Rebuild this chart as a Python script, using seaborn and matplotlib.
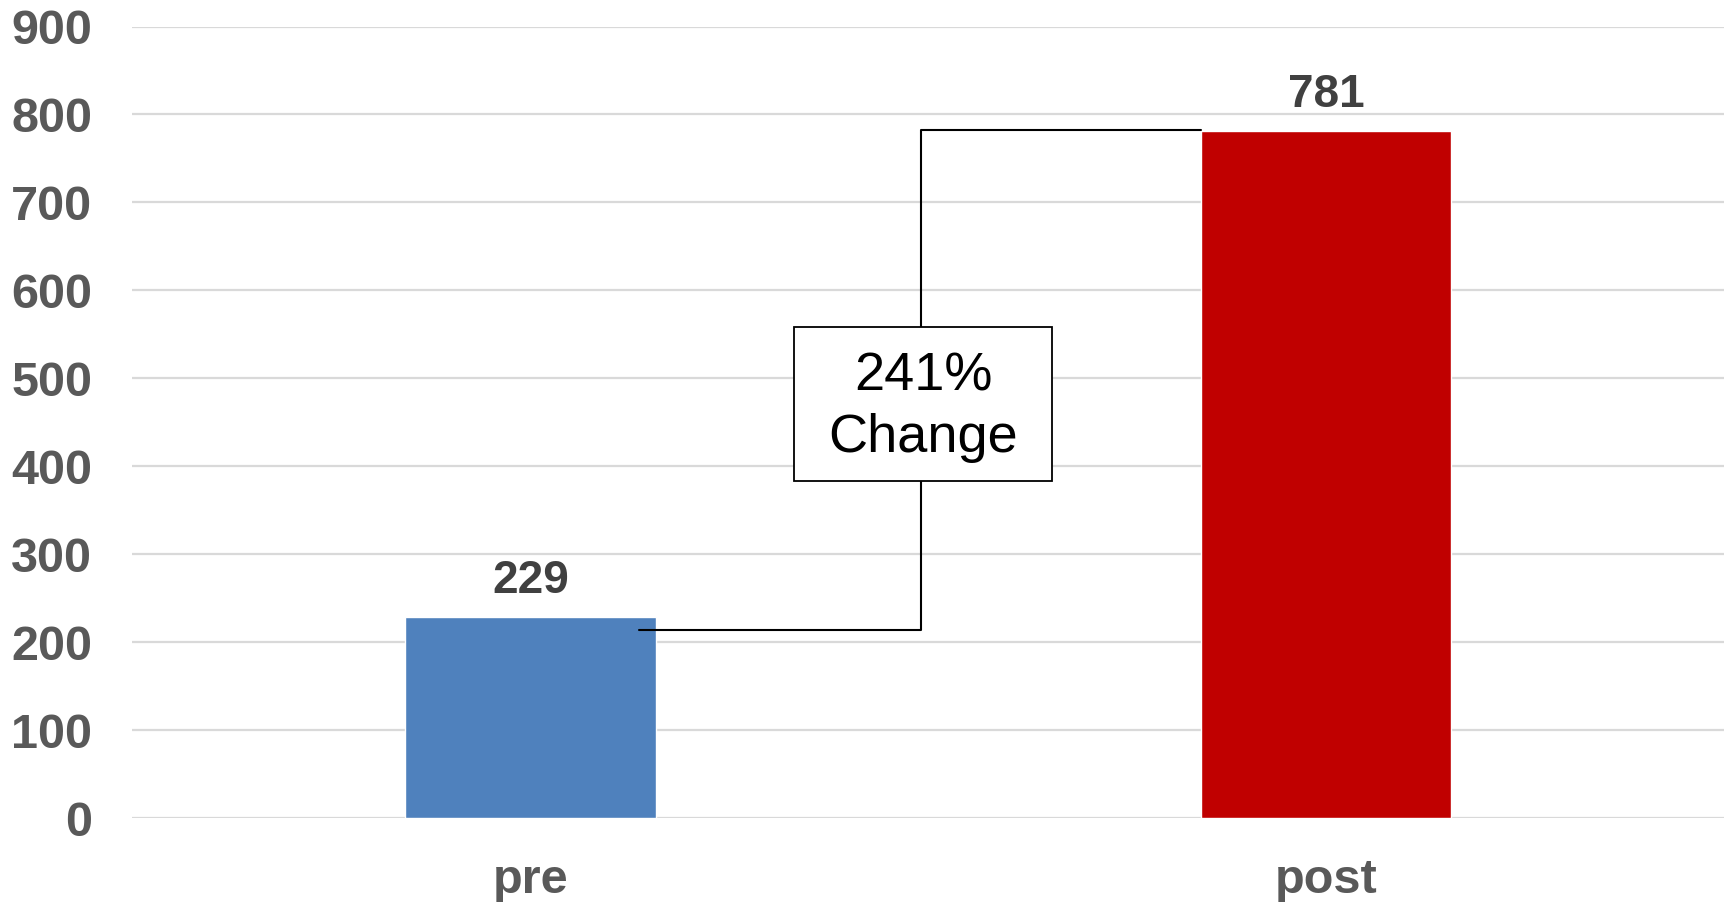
import pandas as pd
import seaborn as sns
import matplotlib.pyplot as plt
from matplotlib.patches import Rectangle

# data
phases = ['pre', 'post']
counts = [229, 781]
bar_colors = ['#4F81BD', '#C00000']
y_ticks = [0, 100, 200, 300, 400, 500, 600, 700, 800, 900]
change_label = '241%\nChange'
# connector levels (start near pre bar, end at post bar top)
connector_levels = [214, 782]
box_range = [383, 558]

sns.set_theme(style='white')
plt.rcParams['font.family'] = ['Liberation Sans', 'DejaVu Sans']

df = pd.DataFrame({'phase': phases, 'count': counts})

fig = plt.figure(figsize=(17.29, 9.02), dpi=100)
ax = fig.add_axes([0.0766, 0.0931, 0.9204, 0.8775])

sns.barplot(data=df, x='phase', y='count', hue='phase', palette=bar_colors,
            width=0.315, legend=False, ax=ax, saturation=1, zorder=3)

ax.set_ylim(0, 900)
ax.set_xlim(-0.5, 1.5)
ax.set_yticks(y_ticks)
ax.yaxis.grid(True, color='#D9D9D9', linewidth=1.6, zorder=0)
ax.set_axisbelow(True)
for s in ax.spines.values():
    s.set_visible(False)
ax.tick_params(axis='y', length=0, pad=29, labelsize=35, labelcolor='#595959')
ax.tick_params(axis='x', length=0, pad=29, labelsize=35, labelcolor='#595959')
for lab in ax.get_yticklabels() + ax.get_xticklabels():
    lab.set_fontweight('bold')
ax.set_xlabel('')
ax.set_ylabel('')

# value labels
for i, v in enumerate(counts):
    ax.text(i, v + 16, str(v), ha='center', va='bottom', fontsize=33,
            fontweight='bold', color='#404040')

# elbow connector from pre to post
half = 0.315 / 2
xs = [0 + 0.137, 0.491, 0.491, 1 - half]
ys = [connector_levels[0], connector_levels[0], connector_levels[1], connector_levels[1]]
ax.plot(xs, ys, color='black', linewidth=1.5, zorder=4)

box = Rectangle((0.3316, box_range[0]), 0.656 - 0.3316, box_range[1] - box_range[0],
                facecolor='white', edgecolor='black', linewidth=1.3, zorder=5)
ax.add_patch(box)
ax.text(0.494, (box_range[0] + box_range[1]) / 2 - 3, change_label, ha='center',
        va='center', fontsize=39, color='black', linespacing=1.3, zorder=6)

fig.savefig('out.png', dpi=100)
